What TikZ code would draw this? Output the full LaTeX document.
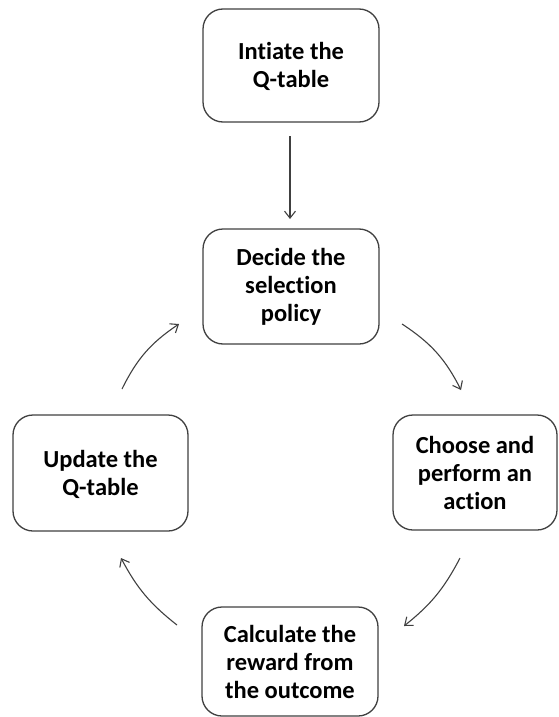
\documentclass[tikz,border=0pt]{standalone}
\usepackage{fontspec}
\setmainfont{Carlito}[Ligatures={NoCommon}]
\usetikzlibrary{arrows.meta}
\begin{document}
\begin{tikzpicture}[x=1pt,y=-1pt,
  box/.style={draw=black!75,line width=1.3pt,rounded corners=20pt,fill=white},
  lbl/.style={align=center,font=\fontsize{24.5}{28}\selectfont\bfseries},
  conn/.style={draw=black!75,line width=1.1pt,-{Straight Barb[length=7pt,width=11pt,line width=1.1pt]}}]
\useasboundingbox (0,0) rectangle (558,717);
% boxes
\draw[box] (203,9) rectangle (379,122);
\node[lbl] (initq) at (291,66) {Intiate the\\Q-table};
\draw[box] (203,229) rectangle (379,344);
\node[lbl] (decide) at (291,287) {Decide the\\selection\\policy};
\draw[box] (13,415) rectangle (188,531);
\node[lbl] (update) at (100.5,474) {Update the\\Q-table};
\draw[box] (393,415) rectangle (557,530);
\node[lbl] (choose) at (475,473) {Choose and\\perform an\\action};
\draw[box] (202,607) rectangle (378,716);
\node[lbl] (calc) at (290,662) {Calculate the\\reward from\\the outcome};
% connectors
\coordinate (a1s) at (290,136); \coordinate (a1e) at (290,219);
\draw[conn] (a1s) -- (a1e);
\coordinate (a2s) at (402,324); \coordinate (a2e) at (461,390);
\draw[conn] (a2s) to[bend left=15] (a2e);
\coordinate (a3s) at (460,558); \coordinate (a3e) at (404,626);
\draw[conn] (a3s) to[bend left=12] (a3e);
\coordinate (a4s) at (177,625); \coordinate (a4e) at (121,558);
\draw[conn] (a4s) to[bend left=12] (a4e);
\coordinate (a5s) at (122,389); \coordinate (a5e) at (179,324);
\draw[conn] (a5s) to[bend left=15] (a5e);
\end{tikzpicture}
\end{document}
